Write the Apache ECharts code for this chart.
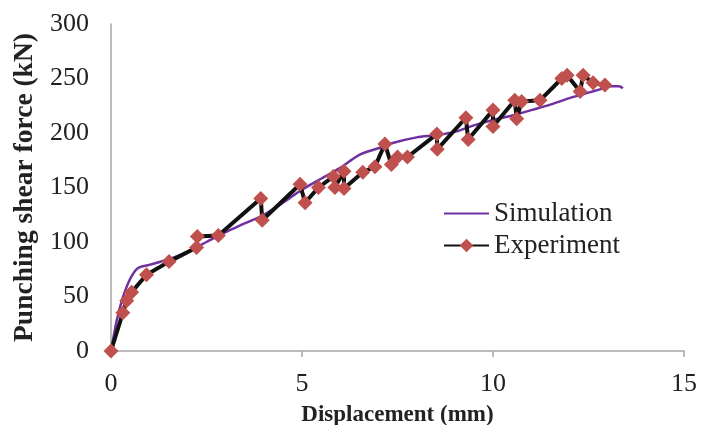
<!DOCTYPE html>
<html>
<head>
<meta charset="utf-8">
<script src="https://cdn.jsdelivr.net/npm/echarts@6/dist/echarts.min.js"></script>
<style>
  html, body { margin: 0; padding: 0; background: #fff; }
  #chart { width: 705px; height: 425px; }
</style>
</head>
<body>
<div id="chart"></div>
<script>
// values
const simX = [0, 0.15, 0.3, 0.5, 0.7, 1.0, 1.5, 2.0, 2.5, 3.0, 3.5, 4.0, 4.5, 5.0, 5.5, 6.0, 6.5, 7.0, 7.4, 8.0, 8.5, 9.0, 9.5, 10.0, 10.5, 11.0, 11.5, 12.0, 12.5, 12.8, 13.1, 13.3, 13.4];
const simY = [0, 28, 48, 66, 76, 79, 84, 91, 100, 109, 117, 125, 136, 148, 158, 168, 180, 186, 191, 196, 198, 201, 207, 212, 216, 221, 226, 232, 237, 240, 243, 243, 241];

const expX = [0, 0.31, 0.41, 0.54, 0.93, 1.52, 2.24, 2.26, 2.81, 3.92, 3.96, 4.95, 5.08, 5.43, 5.82, 5.86, 6.1, 6.1, 6.59, 6.91, 7.17, 7.34, 7.5, 7.76, 8.53, 8.54, 9.29, 9.35, 10.0, 10.0, 10.57, 10.62, 10.75, 11.23, 11.8, 11.94, 12.28, 12.36, 12.62, 12.93];
const expY = [0, 35, 46, 54, 70, 82, 95, 105, 106, 140, 120, 153, 136, 150, 160, 150, 165, 149, 164, 169, 190, 171, 178, 178, 199, 185, 214, 194, 221, 206, 230, 213, 229, 230, 250, 253, 238, 253, 246, 244];

const xTicks = [0, 5, 10, 15];
const yTicks = [0, 50, 100, 150, 200, 250, 300];

const pairs = (xs, ys) => xs.map((x, i) => [x, ys[i]]);

const chart = echarts.init(document.getElementById('chart'));
const serif = '"Liberation Serif", "Times New Roman", serif';

chart.setOption({
  animation: false,
  grid: { left: 111, right: 21, top: 24, bottom: 74, containLabel: false, outerBoundsMode: 'none' },
  legend: {
    orient: 'vertical',
    left: 438,
    top: 195,
    itemWidth: 45,
    itemHeight: 17,
    itemGap: 5,
    textStyle: { fontFamily: serif, fontSize: 27, color: '#222' },
    data: [
      { name: 'Simulation', itemStyle: { opacity: 0 } },
      { name: 'Experiment' }
    ]
  },
  xAxis: {
    type: 'value',
    min: xTicks[0],
    max: xTicks[xTicks.length - 1],
    interval: 5,
    name: 'Displacement (mm)',
    nameLocation: 'middle',
    nameGap: 53,
    nameTextStyle: { fontFamily: serif, fontSize: 23, fontWeight: 'bold', color: '#222' },
    axisLine: { lineStyle: { color: '#a6a6a6', width: 1.5 } },
    axisTick: { show: true, length: 6, lineStyle: { color: '#a6a6a6', width: 1.5 } },
    axisLabel: { fontFamily: serif, fontSize: 26, color: '#222', margin: 20 },
    splitLine: { show: false }
  },
  yAxis: {
    type: 'value',
    min: yTicks[0],
    max: yTicks[yTicks.length - 1],
    interval: 50,
    name: 'Punching shear force (kN)',
    nameLocation: 'middle',
    nameGap: 70,
    nameTextStyle: { fontFamily: serif, fontSize: 27.5, fontWeight: 'bold', color: '#222' },
    axisLine: { show: true, lineStyle: { color: '#a6a6a6', width: 1.5 } },
    axisTick: { show: false },
    axisLabel: { fontFamily: serif, fontSize: 26, color: '#222', margin: 22 },
    splitLine: { show: false }
  },
  series: [
    {
      name: 'Simulation',
      type: 'line',
      data: pairs(simX, simY),
      smooth: 0.3,
      showSymbol: false,
      symbol: 'none',
      lineStyle: { color: '#7030A0', width: 2.5 },
      itemStyle: { color: '#7030A0' },
      z: 2
    },
    {
      name: 'Experiment',
      type: 'line',
      data: pairs(expX, expY),
      symbol: 'diamond',
      symbolSize: 15,
      lineStyle: { color: '#111', width: 4 },
      itemStyle: { color: '#C0504D' },
      z: 3
    }
  ]
});
</script>
</body>
</html>
